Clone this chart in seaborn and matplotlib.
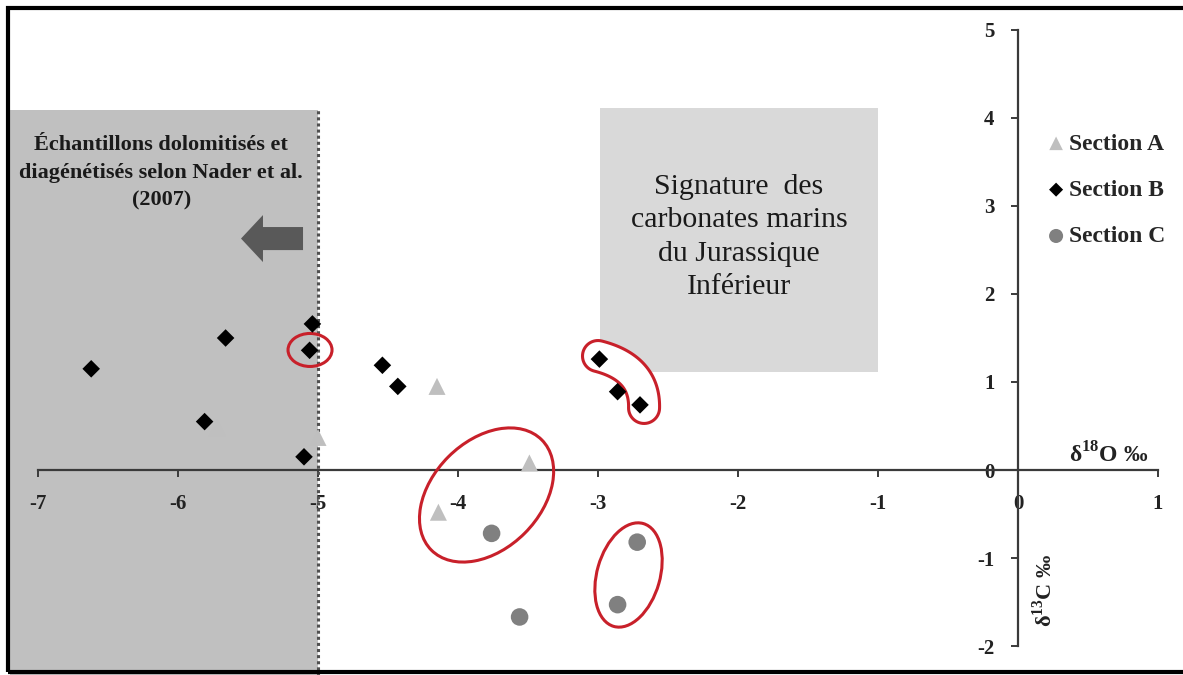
import matplotlib
matplotlib.use("Agg")
import numpy as np
import pandas as pd
import seaborn as sns
import matplotlib.pyplot as plt
from matplotlib.patches import Ellipse, Rectangle, Polygon
from matplotlib.transforms import ScaledTranslation

# ---------------- data ----------------
a_x = [-5.72, -5.00, -4.15, -3.49, -4.14]
a_y = [0.48, 0.37, 0.95, 0.08, -0.48]
b_x = [-6.62, -5.66, -5.81, -5.04, -5.06, -5.10, -4.54, -4.43, -2.99, -2.86, -2.70]
b_y = [1.15, 1.50, 0.55, 1.66, 1.36, 0.15, 1.19, 0.95, 1.26, 0.89, 0.74]
c_x = [-3.76, -3.56, -2.86, -2.72]
c_y = [-0.72, -1.67, -1.53, -0.82]
series_labels = ["Section A", "Section B", "Section C"]
x_ticks = [-7, -6, -5, -4, -3, -2, -1, 0, 1]
x_ticklabels = ["-7", "-6", "-5", "-4", "-3", "-2", "-1", "0", "1"]
y_ticks = [-2, -1, 0, 1, 2, 3, 4, 5]
y_ticklabels = ["-2", "-1", "0", "1", "2", "3", "4", "5"]
dolo_limit_x = -5.0
dolo_top_y = 4.09
jur_box_x = (-2.986, -1.0)
jur_box_y = (1.11, 4.11)

# ---------------- style ----------------
sns.set_style("white")
plt.rcParams["font.family"] = ["Liberation Serif", "DejaVu Serif"]
plt.rcParams["mathtext.fontset"] = "custom"
plt.rcParams["mathtext.rm"] = "Liberation Serif"
plt.rcParams["mathtext.bf"] = "Liberation Serif:bold"
plt.rcParams["axes.unicode_minus"] = False

W, H = 1183, 675
fig = plt.figure(figsize=(W / 100, H / 100), dpi=100)
ax = fig.add_axes([0, 0, 1, 1])
ax.set_xlim(-1018 / 140, (W - 1018) / 140)
ax.set_ylim((470 - H) / 88, 470 / 88)
ax.patch.set_facecolor("white")

# shaded zones
left_edge = (10 - 1018) / 140
ax.add_patch(Rectangle((left_edge, -2.6), dolo_limit_x - left_edge, dolo_top_y + 2.6,
                       facecolor="#c0c0c0", edgecolor="none", zorder=0))
ax.plot([dolo_limit_x, dolo_limit_x], [-2.6, dolo_top_y], ls=(0, (1, 1)),
        color="#505050", lw=2.2, zorder=1)
ax.add_patch(Rectangle((jur_box_x[0], jur_box_y[0]), jur_box_x[1] - jur_box_x[0],
                       jur_box_y[1] - jur_box_y[0], facecolor="#d9d9d9",
                       edgecolor="none", zorder=0))

# arrow
ax.arrow(-5.107, 2.63, -0.443, 0, width=0.262, head_width=0.534,
         head_length=0.157, length_includes_head=True,
         facecolor="#595959", edgecolor="none", zorder=1)

# texts
ax.text(-6.12, 3.38, "Échantillons dolomitisés et\ndiagénétisés selon Nader et al.\n(2007)",
        ha="center", va="center", fontsize=16, fontweight="bold", color="#1a1a1a",
        linespacing=1.5, zorder=2)
ax.text(-1.993, 2.648, "Signature  des\ncarbonates marins\ndu Jurassique\nInférieur",
        ha="center", va="center", fontsize=21.5, color="#1a1a1a", linespacing=1.38, zorder=2)

# ellipses (sizes in pixels around data centres)
red = "#c8202a"

def px_ellipse(cx, cy, w, h, angle, **kw):
    tr = fig.dpi_scale_trans + ScaledTranslation(cx, cy, ax.transData)
    return Ellipse((0, 0), w / 100, h / 100, angle=angle, transform=tr, **kw)

ax.add_patch(px_ellipse(-5.057, 1.364, 44, 33, 0, fill=False, edgecolor=red, lw=2.2, zorder=3))
ax.add_patch(px_ellipse(-3.796, -0.284, 156, 108, 45, fill=False, edgecolor=red, lw=2.2, zorder=3))
ax.add_patch(px_ellipse(-2.782, -1.193, 107, 63, 74, fill=False, edgecolor=red, lw=2.2, zorder=3))

# bean shape: capsule around a bent centre line (quadratic curve)
bean_ctrl = np.array([[-3.00, 1.295], [-2.664, 1.159], [-2.671, 0.705]])
bean_radius_px = 15.5
P = ax.transData.transform(bean_ctrl)
t = np.linspace(0, 1, 60)[:, None]
B = (1 - t) ** 2 * P[0] + 2 * (1 - t) * t * P[1] + t ** 2 * P[2]
D = 2 * (1 - t) * (P[1] - P[0]) + 2 * t * (P[2] - P[1])
D = D / np.linalg.norm(D, axis=1, keepdims=True)
N = np.column_stack([-D[:, 1], D[:, 0]])
side1 = B + bean_radius_px * N
side2 = (B - bean_radius_px * N)[::-1]
arc = np.linspace(0, np.pi, 30)
ang_end = np.arctan2(N[-1, 1], N[-1, 0])
cap_end = B[-1] + bean_radius_px * np.column_stack([np.cos(ang_end - arc), np.sin(ang_end - arc)])
ang_start = np.arctan2(-N[0, 1], -N[0, 0])
cap_start = B[0] + bean_radius_px * np.column_stack([np.cos(ang_start - arc), np.sin(ang_start - arc)])
outline = np.vstack([side1, cap_end, side2, cap_start])
ax.add_patch(Polygon(outline, closed=True, transform=None, facecolor="white",
                     edgecolor=red, lw=2.2, zorder=3))

# scatter
sns.scatterplot(x=a_x, y=a_y, marker="^", s=150, color="#bfbfbf", edgecolor="none",
                linewidth=0, label=series_labels[0], ax=ax, zorder=4)
sns.scatterplot(x=b_x, y=b_y, marker="D", s=80, color="black", edgecolor="none",
                linewidth=0, label=series_labels[1], ax=ax, zorder=5)
sns.scatterplot(x=c_x, y=c_y, marker="o", s=160, color="#808080", edgecolor="none",
                linewidth=0, label=series_labels[2], ax=ax, zorder=5)

# axes through origin
for s in ["top", "right"]:
    ax.spines[s].set_visible(False)
ax.spines["left"].set_position(("data", 0))
ax.spines["bottom"].set_position(("data", 0))
ax.spines["left"].set_bounds(-2, 5)
ax.spines["bottom"].set_bounds(-7, 1)
for s in ["left", "bottom"]:
    ax.spines[s].set_color("#3a3a3a")
    ax.spines[s].set_linewidth(1.6)
    ax.spines[s].set_zorder(2.5)
ax.set_xticks(x_ticks)
ax.set_xticklabels(x_ticklabels)
ax.set_yticks(y_ticks)
ax.set_yticklabels(y_ticklabels)
ax.tick_params(axis="both", direction="out", length=5, width=1.4, color="#3a3a3a",
               labelsize=15, pad=12, labelcolor="#222222",
               bottom=True, left=True)
for lab in ax.get_xticklabels() + ax.get_yticklabels():
    lab.set_fontweight("bold")
ax.set_xlabel("")
ax.set_ylabel("")

ax.text(0.93, 0.03, r"δ$^{\mathbf{18}}$O ‰", ha="right", va="bottom", fontsize=17,
        fontweight="bold", color="#222222")
ax.text(0.19, -1.37, r"δ$^{\mathbf{13}}$C ‰", ha="center", va="center", rotation=90,
        fontsize=16, fontweight="bold", color="#222222")

# legend
h, l = ax.get_legend_handles_labels()
ax.legend(h, l, loc="upper left", bbox_to_anchor=(1049 / W, 1 - 133 / H),
          bbox_transform=fig.transFigure, frameon=False, borderpad=0, borderaxespad=0,
          handlelength=0.6, handletextpad=0.25, labelspacing=1.05, markerscale=0.8,
          prop={"family": "Liberation Serif", "weight": "bold", "size": 17})

# outer frame
fig.add_artist(Rectangle((8 / W, 3 / H), (W + 20 - 8) / W, (672 - 8) / H,
                         transform=fig.transFigure, fill=False, edgecolor="black",
                         lw=3, zorder=10))

fig.savefig("out.png", dpi=100)
